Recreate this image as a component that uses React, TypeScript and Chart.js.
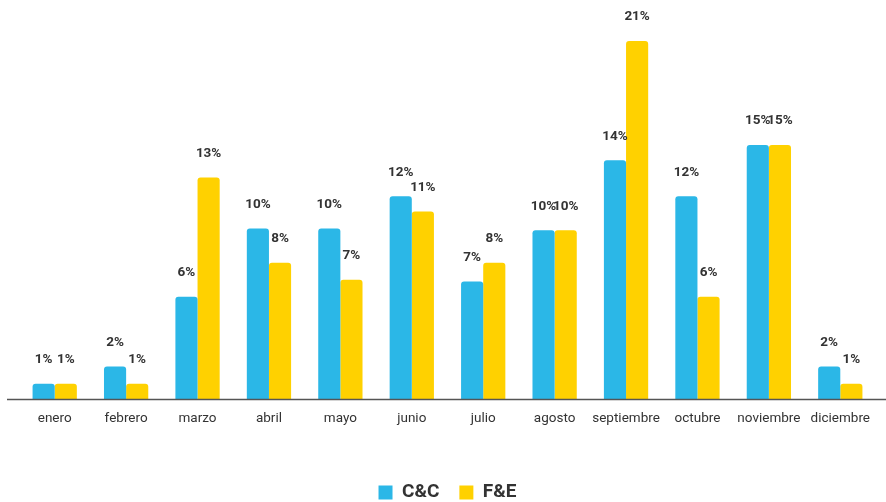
import React, { useEffect, useRef } from "react";
import { Chart, registerables } from "chart.js";

Chart.register(...registerables);

const categories = ["enero", "febrero", "marzo", "abril", "mayo", "junio", "julio", "agosto", "septiembre", "octubre", "noviembre", "diciembre"];
const ccValues = [0.9, 1.9, 6.0, 10.0, 10.0, 11.9, 6.9, 9.9, 14.0, 11.9, 14.9, 1.9];
const feValues = [0.9, 0.9, 13.0, 8.0, 7.0, 11.0, 8.0, 9.9, 21.0, 6.0, 14.9, 0.9];
const ccLabels = ["1%", "2%", "6%", "10%", "10%", "12%", "7%", "10%", "14%", "12%", "15%", "2%"];
const feLabels = ["1%", "1%", "13%", "8%", "7%", "11%", "8%", "10%", "21%", "6%", "15%", "1%"];

const BLUE = "#2BB7E7";
const YELLOW = "#FFD100";

const labelPlugin = {
  id: "barLabels",
  afterDatasetsDraw(chart: any) {
    const ctx = chart.ctx;
    const sets = [ccLabels, feLabels];
    ctx.save();
    ctx.font = "bold 13.5px Roboto";
    ctx.fillStyle = "#333333";
    ctx.textAlign = "center";
    ctx.textBaseline = "middle";
    chart.data.datasets.forEach((_: any, di: number) => {
      const meta = chart.getDatasetMeta(di);
      meta.data.forEach((bar: any, i: number) => {
        ctx.fillText(sets[di][i], bar.x, bar.y - 24);
      });
    });
    ctx.restore();
  },
};

const baselinePlugin = {
  id: "baseline",
  afterDatasetsDraw(chart: any) {
    const ctx = chart.ctx;
    const y = Math.round(chart.scales.y.getPixelForValue(0)) + 0.5;
    ctx.save();
    ctx.strokeStyle = "#555555";
    ctx.lineWidth = 1.5;
    ctx.beginPath();
    ctx.moveTo(7, y);
    ctx.lineTo(chart.width, y);
    ctx.stroke();
    ctx.restore();
  },
};

export default function App() {
  const ref = useRef<HTMLCanvasElement>(null);
  useEffect(() => {
    const chart = new Chart(ref.current!, {
      type: "bar",
      data: {
        labels: categories,
        datasets: [
          { label: "C&C", data: ccValues, backgroundColor: BLUE, borderRadius: 3, borderSkipped: "bottom" },
          { label: "F&E", data: feValues, backgroundColor: YELLOW, borderRadius: 3, borderSkipped: "bottom" },
        ],
      },
      options: {
        animation: false,
        responsive: false,
        layout: { padding: { top: 24, left: 19, right: 10, bottom: -10 } },
        datasets: { bar: { categoryPercentage: 0.62, barPercentage: 1.0 } },
        scales: {
          x: {
            grid: { display: false, drawTicks: false },
            border: { display: false },
            ticks: { color: "#333333", font: { family: "Roboto", size: 13.5 }, padding: 12, maxRotation: 0, autoSkip: false },
            afterFit: (scale: any) => { scale.height = 64; },
          },
          y: { display: false, min: 0, max: 22 },
        },
        plugins: {
          legend: {
            position: "bottom",
            labels: {
              color: "#333333",
              font: { family: "Roboto", size: 19, weight: "bold" },
              boxWidth: 14,
              boxHeight: 14,
              padding: 20,
            },
          },
          tooltip: { enabled: false },
        },
      },
      plugins: [labelPlugin, baselinePlugin],
    });
    return () => chart.destroy();
  }, []);
  return (
    <div style={{ position: "absolute", left: 0, top: 0, width: 886, height: 502, background: "#fff" }}>
      <canvas ref={ref} width={886} height={502} />
    </div>
  );
}
